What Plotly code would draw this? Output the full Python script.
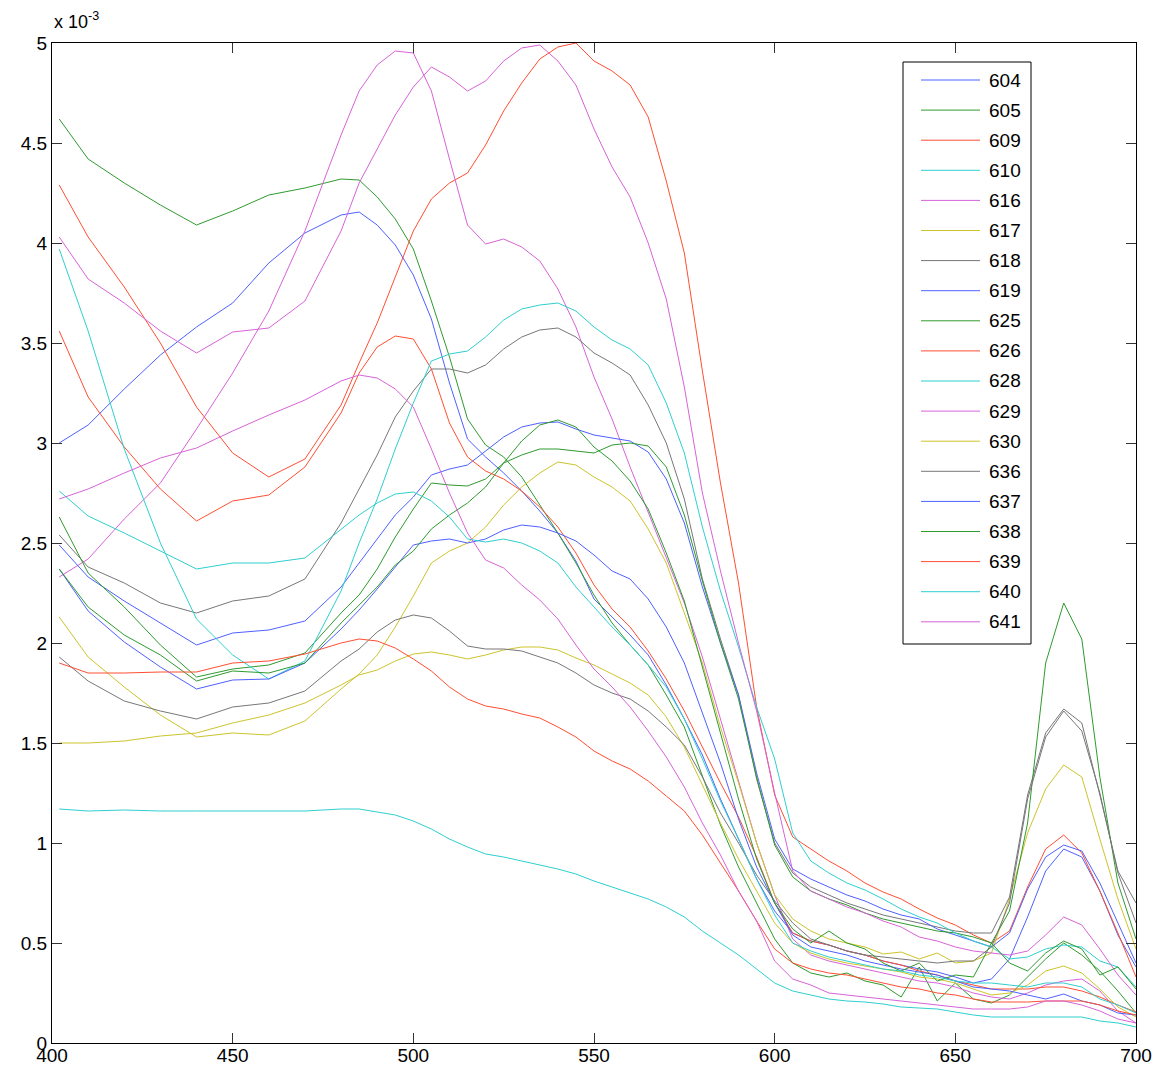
import plotly.graph_objects as go

# Wavelength grid (nm)
wavelength = [402, 410, 420, 430, 440, 450, 460, 470, 480, 485, 490, 495, 500, 505,
              510, 515, 520, 525, 530, 535, 540, 545, 550, 555, 560, 565, 570, 575,
              580, 585, 590, 595, 600, 605, 610, 615, 620, 625, 630, 635, 640, 645,
              650, 655, 660, 665, 670, 675, 680, 685, 690, 695, 700]

# Spectra, in units of 1e-3
s604 = [3.00, 3.09, 3.27, 3.44, 3.58, 3.70, 3.90, 4.05, 4.14, 4.155, 4.09, 3.99, 3.84, 3.62,
        3.30, 3.02, 2.93, 2.85, 2.76, 2.66, 2.55, 2.41, 2.22, 2.13, 2.04, 1.94, 1.79, 1.62,
        1.44, 1.22, 1.02, 0.82, 0.66, 0.55, 0.51, 0.49, 0.46, 0.44, 0.41, 0.39, 0.37, 0.355,
        0.33, 0.30, 0.32, 0.42, 0.63, 0.86, 0.97, 0.93, 0.76, 0.54, 0.38]
s605 = [4.62, 4.42, 4.30, 4.19, 4.09, 4.16, 4.24, 4.275, 4.32, 4.315, 4.23, 4.12, 3.97, 3.71,
        3.43, 3.12, 2.99, 2.93, 2.83, 2.69, 2.55, 2.40, 2.24, 2.10, 1.99, 1.89, 1.74, 1.58,
        1.34, 1.09, 0.88, 0.70, 0.52, 0.40, 0.35, 0.33, 0.35, 0.31, 0.29, 0.23, 0.38, 0.21,
        0.30, 0.22, 0.20, 0.24, 0.33, 0.42, 0.50, 0.44, 0.36, 0.26, 0.15]
s609 = [4.29, 4.03, 3.78, 3.50, 3.18, 2.95, 2.83, 2.92, 3.19, 3.40, 3.60, 3.83, 4.06, 4.22,
        4.30, 4.35, 4.49, 4.66, 4.80, 4.92, 4.98, 5.00, 4.91, 4.86, 4.79, 4.63, 4.31, 3.95,
        3.36, 2.80, 2.30, 1.68, 1.24, 1.03, 0.97, 0.91, 0.86, 0.80, 0.755, 0.72, 0.67, 0.625,
        0.59, 0.54, 0.50, 0.56, 0.78, 0.97, 1.04, 0.95, 0.76, 0.55, 0.33]
s610 = [1.17, 1.16, 1.165, 1.16, 1.16, 1.16, 1.16, 1.16, 1.17, 1.17, 1.155, 1.14, 1.11, 1.07,
        1.02, 0.98, 0.945, 0.93, 0.91, 0.89, 0.87, 0.845, 0.81, 0.78, 0.75, 0.72, 0.68, 0.63,
        0.56, 0.50, 0.44, 0.37, 0.30, 0.26, 0.24, 0.22, 0.21, 0.205, 0.195, 0.18, 0.175, 0.17,
        0.155, 0.14, 0.13, 0.13, 0.13, 0.13, 0.13, 0.13, 0.11, 0.10, 0.08]
s616 = [2.33, 2.42, 2.62, 2.80, 3.07, 3.35, 3.66, 4.06, 4.54, 4.76, 4.89, 4.96, 4.95, 4.76,
        4.42, 4.09, 3.995, 4.02, 3.98, 3.91, 3.77, 3.58, 3.33, 3.12, 2.88, 2.65, 2.42, 2.20,
        1.93, 1.62, 1.32, 1.00, 0.74, 0.52, 0.44, 0.41, 0.39, 0.37, 0.35, 0.33, 0.31, 0.30,
        0.28, 0.25, 0.23, 0.22, 0.25, 0.29, 0.31, 0.32, 0.26, 0.16, 0.10]
s617 = [2.13, 1.93, 1.78, 1.64, 1.53, 1.55, 1.54, 1.61, 1.77, 1.845, 1.94, 2.08, 2.235, 2.40,
        2.46, 2.50, 2.58, 2.69, 2.78, 2.85, 2.905, 2.89, 2.83, 2.78, 2.71, 2.57, 2.40, 2.15,
        1.90, 1.58, 1.30, 1.00, 0.74, 0.62, 0.56, 0.52, 0.50, 0.48, 0.445, 0.455, 0.42, 0.45,
        0.40, 0.41, 0.45, 0.72, 1.05, 1.27, 1.39, 1.33, 1.02, 0.72, 0.47]
s618 = [2.54, 2.38, 2.30, 2.20, 2.15, 2.21, 2.235, 2.32, 2.60, 2.77, 2.94, 3.13, 3.26, 3.37,
        3.37, 3.35, 3.39, 3.47, 3.53, 3.565, 3.575, 3.53, 3.45, 3.40, 3.34, 3.19, 3.00, 2.72,
        2.32, 2.02, 1.74, 1.32, 1.00, 0.85, 0.78, 0.74, 0.70, 0.67, 0.64, 0.62, 0.60, 0.58,
        0.56, 0.55, 0.55, 0.73, 1.24, 1.55, 1.67, 1.60, 1.24, 0.86, 0.70]
s619 = [2.49, 2.33, 2.21, 2.10, 1.99, 2.05, 2.065, 2.11, 2.28, 2.40, 2.52, 2.64, 2.73, 2.84,
        2.87, 2.89, 2.96, 3.03, 3.08, 3.10, 3.105, 3.07, 3.04, 3.025, 3.01, 2.955, 2.82, 2.60,
        2.28, 2.00, 1.74, 1.35, 1.02, 0.87, 0.82, 0.78, 0.74, 0.71, 0.67, 0.64, 0.62, 0.57,
        0.54, 0.51, 0.48, 0.55, 0.77, 0.93, 0.99, 0.96, 0.80, 0.60, 0.40]
s625 = [2.63, 2.35, 2.18, 1.99, 1.83, 1.87, 1.89, 1.95, 2.15, 2.24, 2.37, 2.53, 2.67, 2.80,
        2.79, 2.785, 2.82, 2.90, 2.94, 2.97, 2.97, 2.96, 2.95, 2.99, 3.00, 2.985, 2.88, 2.64,
        2.31, 2.00, 1.72, 1.33, 0.99, 0.83, 0.76, 0.72, 0.69, 0.65, 0.62, 0.60, 0.58, 0.56,
        0.55, 0.53, 0.50, 0.66, 1.10, 1.90, 2.20, 2.02, 1.33, 0.80, 0.52]
s626 = [3.56, 3.23, 2.98, 2.77, 2.61, 2.71, 2.74, 2.88, 3.15, 3.35, 3.48, 3.535, 3.52, 3.37,
        3.10, 2.93, 2.86, 2.82, 2.76, 2.68, 2.58, 2.45, 2.29, 2.17, 2.08, 1.96, 1.82, 1.66,
        1.48, 1.30, 1.13, 0.93, 0.70, 0.55, 0.51, 0.49, 0.46, 0.44, 0.41, 0.39, 0.36, 0.34,
        0.31, 0.29, 0.27, 0.27, 0.27, 0.28, 0.28, 0.26, 0.23, 0.19, 0.155]
s628 = [3.97, 3.56, 2.97, 2.50, 2.12, 1.94, 1.82, 1.91, 2.26, 2.50, 2.72, 2.97, 3.20, 3.41,
        3.445, 3.46, 3.53, 3.615, 3.67, 3.69, 3.70, 3.66, 3.58, 3.515, 3.47, 3.39, 3.20, 2.95,
        2.58, 2.26, 1.98, 1.68, 1.42, 1.05, 0.91, 0.85, 0.80, 0.765, 0.72, 0.67, 0.63, 0.60,
        0.55, 0.51, 0.48, 0.42, 0.43, 0.47, 0.49, 0.48, 0.41, 0.38, 0.28]
s629 = [4.03, 3.82, 3.70, 3.56, 3.45, 3.555, 3.575, 3.71, 4.06, 4.30, 4.47, 4.64, 4.78, 4.88,
        4.83, 4.76, 4.81, 4.91, 4.975, 4.99, 4.91, 4.79, 4.57, 4.38, 4.23, 4.00, 3.72, 3.28,
        2.75, 2.36, 2.00, 1.66, 1.25, 0.86, 0.76, 0.72, 0.68, 0.65, 0.61, 0.58, 0.53, 0.51,
        0.48, 0.46, 0.45, 0.44, 0.46, 0.54, 0.63, 0.59, 0.47, 0.34, 0.24]
s630 = [1.50, 1.50, 1.51, 1.535, 1.55, 1.60, 1.64, 1.70, 1.79, 1.84, 1.865, 1.91, 1.945, 1.955,
        1.94, 1.92, 1.94, 1.965, 1.98, 1.98, 1.965, 1.925, 1.89, 1.845, 1.80, 1.74, 1.63, 1.48,
        1.29, 1.10, 0.92, 0.76, 0.60, 0.50, 0.45, 0.42, 0.40, 0.385, 0.37, 0.355, 0.33, 0.32,
        0.30, 0.27, 0.24, 0.25, 0.29, 0.36, 0.385, 0.35, 0.27, 0.18, 0.13]
s636 = [1.93, 1.81, 1.71, 1.66, 1.62, 1.68, 1.70, 1.76, 1.91, 1.97, 2.055, 2.115, 2.14, 2.125,
        2.06, 1.985, 1.97, 1.97, 1.96, 1.93, 1.90, 1.85, 1.79, 1.75, 1.72, 1.66, 1.58, 1.49,
        1.33, 1.15, 1.00, 0.84, 0.71, 0.60, 0.52, 0.49, 0.46, 0.44, 0.43, 0.42, 0.41, 0.40,
        0.41, 0.41, 0.48, 0.70, 1.22, 1.53, 1.66, 1.56, 1.25, 0.85, 0.60]
s637 = [2.37, 2.16, 2.005, 1.88, 1.77, 1.815, 1.82, 1.90, 2.07, 2.165, 2.27, 2.38, 2.49, 2.51,
        2.52, 2.50, 2.52, 2.565, 2.59, 2.58, 2.55, 2.51, 2.44, 2.36, 2.32, 2.22, 2.08, 1.90,
        1.65, 1.40, 1.12, 0.88, 0.70, 0.54, 0.48, 0.46, 0.44, 0.41, 0.39, 0.37, 0.355, 0.34,
        0.31, 0.28, 0.27, 0.26, 0.24, 0.22, 0.245, 0.21, 0.19, 0.15, 0.14]
s638 = [2.37, 2.18, 2.04, 1.94, 1.81, 1.86, 1.85, 1.90, 2.10, 2.19, 2.28, 2.39, 2.46, 2.57,
        2.64, 2.70, 2.78, 2.90, 3.01, 3.09, 3.115, 3.08, 2.98, 2.91, 2.81, 2.67, 2.45, 2.21,
        1.88, 1.55, 1.22, 0.92, 0.70, 0.57, 0.50, 0.56, 0.50, 0.47, 0.40, 0.36, 0.40, 0.31,
        0.34, 0.33, 0.50, 0.40, 0.36, 0.45, 0.51, 0.47, 0.34, 0.38, 0.27]
s639 = [1.90, 1.85, 1.85, 1.855, 1.855, 1.90, 1.91, 1.945, 2.00, 2.02, 2.01, 1.975, 1.92, 1.86,
        1.78, 1.72, 1.685, 1.67, 1.645, 1.625, 1.58, 1.53, 1.46, 1.41, 1.37, 1.31, 1.235, 1.16,
        1.04, 0.90, 0.76, 0.61, 0.47, 0.40, 0.37, 0.35, 0.34, 0.32, 0.30, 0.28, 0.27, 0.25,
        0.24, 0.22, 0.205, 0.205, 0.205, 0.21, 0.21, 0.21, 0.19, 0.16, 0.14]
s640 = [2.76, 2.635, 2.55, 2.46, 2.37, 2.40, 2.40, 2.425, 2.57, 2.64, 2.70, 2.745, 2.755, 2.71,
        2.63, 2.52, 2.505, 2.52, 2.50, 2.46, 2.40, 2.28, 2.18, 2.08, 1.99, 1.89, 1.78, 1.62,
        1.42, 1.21, 1.02, 0.82, 0.64, 0.50, 0.46, 0.43, 0.41, 0.39, 0.37, 0.36, 0.34, 0.33,
        0.31, 0.30, 0.30, 0.29, 0.28, 0.30, 0.30, 0.28, 0.22, 0.19, 0.15]
s641 = [2.72, 2.77, 2.85, 2.925, 2.975, 3.06, 3.14, 3.215, 3.31, 3.34, 3.325, 3.27, 3.18, 2.97,
        2.75, 2.55, 2.415, 2.375, 2.29, 2.215, 2.12, 1.99, 1.87, 1.78, 1.68, 1.56, 1.43, 1.28,
        1.10, 0.94, 0.76, 0.61, 0.41, 0.32, 0.29, 0.25, 0.24, 0.23, 0.22, 0.21, 0.20, 0.19,
        0.18, 0.17, 0.17, 0.17, 0.18, 0.21, 0.21, 0.19, 0.16, 0.12, 0.10]

sample_ids = ["604", "605", "609", "610", "616", "617", "618", "619", "625", "626",
              "628", "629", "630", "636", "637", "638", "639", "640", "641"]
x_ticks = [400, 450, 500, 550, 600, 650, 700]
y_ticks = [0, 0.5, 1, 1.5, 2, 2.5, 3, 3.5, 4, 4.5, 5]

# Seven-colour line cycle
BLUE = "#4f60ff"
GREEN = "#2f9a2f"
RED = "#ff4e32"
CYAN = "#2fcfcf"
MAGENTA = "#d763d8"
YELLOW = "#cdc42c"
GRAY = "#777777"
cycle = [BLUE, GREEN, RED, CYAN, MAGENTA, YELLOW, GRAY]

spectra = [s604, s605, s609, s610, s616, s617, s618, s619, s625, s626,
           s628, s629, s630, s636, s637, s638, s639, s640, s641]

W, H = 1167, 1071
L, R, T, B = 52, 31, 43, 28
FONT = "Liberation Sans, Arial, Helvetica, sans-serif"

fig = go.Figure()
for i, (name, vals) in enumerate(zip(sample_ids, spectra)):
    fig.add_trace(go.Scatter(
        x=wavelength, y=vals, mode="lines", name=name,
        line=dict(color=cycle[i % 7], width=1),
        showlegend=False,
    ))

plot_w = W - L - R
plot_h = H - T - B


def px_to_paper_x(px):
    return (px - L) / plot_w


def px_to_paper_y(py):
    return (H - B - py) / plot_h


# Boxed legend in the upper right
shapes = [dict(type="rect", xref="paper", yref="paper",
               x0=px_to_paper_x(903), x1=px_to_paper_x(1031),
               y0=px_to_paper_y(644), y1=px_to_paper_y(62),
               line=dict(color="black", width=1), fillcolor="white", layer="above")]
annotations = []
for i, name in enumerate(sample_ids):
    yy = px_to_paper_y(80 + 30.1 * i)
    shapes.append(dict(type="line", xref="paper", yref="paper",
                       x0=px_to_paper_x(921), x1=px_to_paper_x(980), y0=yy, y1=yy,
                       line=dict(color=cycle[i % 7], width=1), layer="above"))
    annotations.append(dict(text=name, xref="paper", yref="paper",
                            x=px_to_paper_x(987), y=yy, xanchor="left", yanchor="middle",
                            showarrow=False, font=dict(family=FONT, size=19, color="black")))

# Axis exponent label
annotations.append(dict(text="x 10<sup>-3</sup>", xref="paper", yref="paper",
                        x=0, y=1, xanchor="left", yanchor="bottom", yshift=9,
                        showarrow=False, font=dict(family=FONT, size=18, color="black")))

axis_common = dict(ticks="inside", ticklen=10, tickwidth=1, tickcolor="#333333",
                   showline=True, linecolor="black", linewidth=1, mirror="ticks",
                   showgrid=False, zeroline=False, automargin=False,
                   tickfont=dict(family=FONT, size=19, color="black"))

fig.update_xaxes(range=[400, 700], tickvals=x_ticks, ticklabelstandoff=-5, **axis_common)
fig.update_yaxes(range=[0, 5], tickvals=y_ticks, **axis_common)

fig.update_layout(
    width=W, height=H,
    margin=dict(l=L, r=R, t=T, b=B),
    paper_bgcolor="white", plot_bgcolor="white",
    font=dict(family=FONT, size=19, color="black"),
    shapes=shapes, annotations=annotations,
)

fig.write_html("out.html")
